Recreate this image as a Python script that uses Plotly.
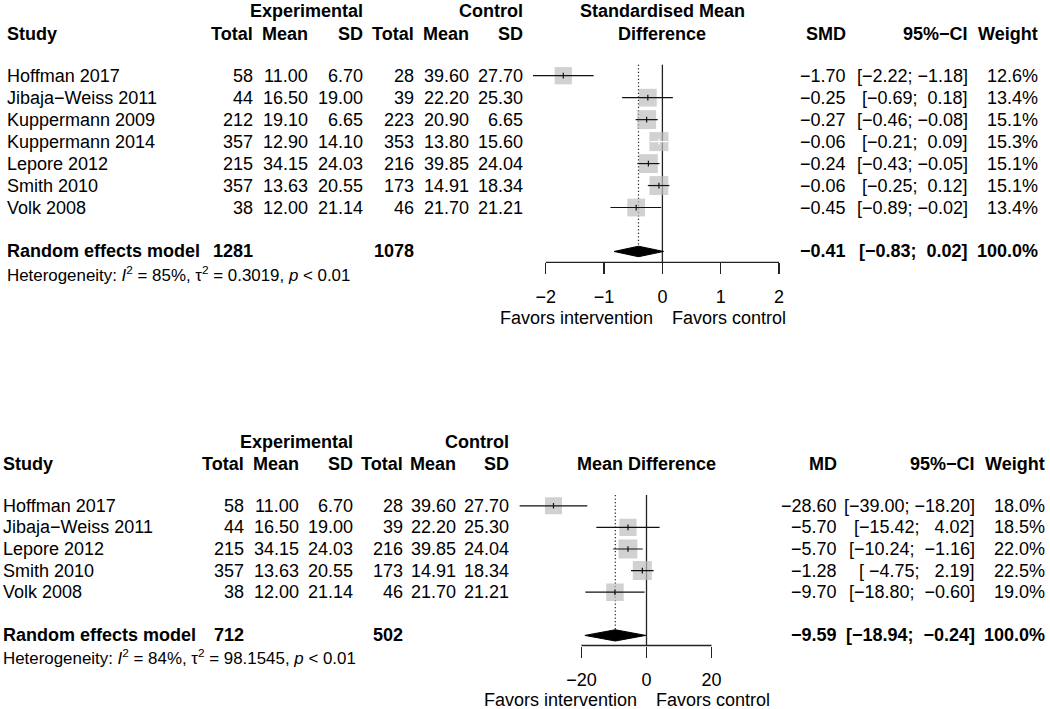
import math
import plotly.graph_objects as go

W, H = 1050, 709
FONT = "Liberation Sans, Arial, Helvetica, sans-serif"
FS = 18
HS = 16.9
MINUS = "\u2212"
NB = "\u00a0"

# ---------------- data: standardised mean difference ----------------
smd_studies = ["Hoffman 2017", "Jibaja-Weiss 2011", "Kuppermann 2009", "Kuppermann 2014",
               "Lepore 2012", "Smith 2010", "Volk 2008"]
smd_n_e = [58, 44, 212, 357, 215, 357, 38]
smd_mean_e = [11.00, 16.50, 19.10, 12.90, 34.15, 13.63, 12.00]
smd_sd_e = [6.70, 19.00, 6.65, 14.10, 24.03, 20.55, 21.14]
smd_n_c = [28, 39, 223, 353, 216, 173, 46]
smd_mean_c = [39.60, 22.20, 20.90, 13.80, 39.85, 14.91, 21.70]
smd_sd_c = [27.70, 25.30, 6.65, 15.60, 24.04, 18.34, 21.21]
smd_est = [-1.70, -0.25, -0.27, -0.06, -0.24, -0.06, -0.45]
smd_lo = [-2.22, -0.69, -0.46, -0.21, -0.43, -0.25, -0.89]
smd_hi = [-1.18, 0.18, -0.08, 0.09, -0.05, 0.12, -0.02]
smd_w = [12.6, 13.4, 15.1, 15.3, 15.1, 15.1, 13.4]
smd_re = [-0.41, -0.83, 0.02]
smd_tot = [1281, 1078]
smd_het = ["85%", "0.3019"]
smd_ticks = [-2, -1, 0, 1, 2]

# ---------------- data: mean difference ----------------
md_studies = ["Hoffman 2017", "Jibaja-Weiss 2011", "Lepore 2012", "Smith 2010", "Volk 2008"]
md_n_e = [58, 44, 215, 357, 38]
md_mean_e = [11.00, 16.50, 34.15, 13.63, 12.00]
md_sd_e = [6.70, 19.00, 24.03, 20.55, 21.14]
md_n_c = [28, 39, 216, 173, 46]
md_mean_c = [39.60, 22.20, 39.85, 14.91, 21.70]
md_sd_c = [27.70, 25.30, 24.04, 18.34, 21.21]
md_est = [-28.60, -5.70, -5.70, -1.28, -9.70]
md_lo = [-39.00, -15.42, -10.24, -4.75, -18.80]
md_hi = [-18.20, 4.02, -1.16, 2.19, -0.60]
md_w = [18.0, 18.5, 22.0, 22.5, 19.0]
md_re = [-9.59, -18.94, -0.24]
md_tot = [712, 502]
md_het = ["84%", "98.1545"]
md_ticks = [-20, 0, 20]


def m(s):
    return s.replace("-", MINUS)


def fmt(v, d=2):
    return m(f"{v:.{d}f}")


def ci_strings(lo, hi):
    los = [f"{v:.2f}" for v in lo]
    his = [f"{v:.2f}" for v in hi]
    wl = max(len(s) for s in los)
    wh = max(len(s) for s in his)
    return [m("[" + a.rjust(wl, NB) + ";" + NB + b.rjust(wh, NB) + "]") for a, b in zip(los, his)]


fig = go.Figure()
annotations = []
shapes = []


def ann(text, x, y, xref, yref, anchor, bold=False, size=FS, xshift=0):
    annotations.append(dict(
        text=(f"<b>{text}</b>" if bold else text), x=x, y=y, xref=xref, yref=yref,
        xanchor=anchor, yanchor="middle", showarrow=False, xshift=xshift,
        borderpad=0, borderwidth=0,
        font=dict(family=FONT, size=size, color="black")))


def panel(cfg):
    xa, ya = cfg["xa"], cfg["ya"]
    xr, yr = ("x" if xa == "xaxis" else "x2"), ("y" if ya == "yaxis" else "y2")
    r1, pitch = cfg["row1_px"], cfg["pitch"]
    top_px, axis_px = cfg["top_px"], cfg["axis_px"]
    k_top = 1 + (top_px - r1) / pitch
    k_bot = 1 + (axis_px - r1) / pitch
    x0_px, x1_px = cfg["dom_px"]
    zero_px, scale = cfg["zero_px"], cfg["scale"]
    xrange = [(x0_px - zero_px) / scale, (x1_px - zero_px) / scale]

    def py(px):
        return 1 - px / H

    fig.update_layout({
        xa: dict(domain=[x0_px / W, x1_px / W], range=xrange, anchor=yr,
                 showgrid=False, zeroline=False, showline=False,
                 ticks="outside", ticklen=11, tickwidth=1.3, tickcolor="#222",
                 tickvals=cfg["ticks"], ticktext=[m(str(t)) for t in cfg["ticks"]],
                 tickfont=dict(family=FONT, size=FS, color="black"),
                 ticklabelstandoff=cfg["standoff"], fixedrange=True),
        ya: dict(domain=[py(axis_px), py(top_px)], range=[k_bot, k_top], anchor=xr,
                 visible=False, fixedrange=True),
    })

    n = len(cfg["studies"])
    rows = list(range(1, n + 1))
    k_re = n + 2
    est, lo, hi, w = cfg["est"], cfg["lo"], cfg["hi"], cfg["w"]
    re_est, re_lo, re_hi = cfg["re"]
    dh = cfg["dia_h"]

    # reference lines
    fig.add_trace(go.Scatter(x=[re_est, re_est], y=[0.5, k_re - dh], mode="lines",
                             line=dict(color="#222", width=1.2, dash="1.3px,2.2px"),
                             xaxis=xr, yaxis=yr, hoverinfo="skip", showlegend=False))
    fig.add_trace(go.Scatter(x=[0, 0], y=[0.5, k_bot], mode="lines",
                             line=dict(color="#222", width=1.3),
                             xaxis=xr, yaxis=yr, hoverinfo="skip", showlegend=False))
    # squares
    wmax = max(w)
    sizes = [cfg["sq_max"] * math.sqrt(v / wmax) for v in w]
    fig.add_trace(go.Scatter(x=est, y=rows, mode="markers",
                             marker=dict(symbol="square", size=sizes, color="#BEBEBE",
                                         line=dict(width=0)),
                             xaxis=xr, yaxis=yr, hoverinfo="skip", showlegend=False))
    # CI lines and estimate ticks
    for inside_flag, col in ((False, "#111"), (True, "white")):
        lx, ly, tx, ty = [], [], [], []
        for k, e, a, b, s in zip(rows, est, lo, hi, sizes):
            inside = (e - a) * scale <= s / 2 and (b - e) * scale <= s / 2
            if inside != inside_flag:
                continue
            lx += [a, b, None]
            ly += [k, k, None]
            tx += [e, e, None]
            ty += [k - 0.13, k + 0.13, None]
        if lx:
            fig.add_trace(go.Scatter(x=lx, y=ly, mode="lines", line=dict(color=col, width=1.2),
                                     xaxis=xr, yaxis=yr, hoverinfo="skip", showlegend=False))
            fig.add_trace(go.Scatter(x=tx, y=ty, mode="lines", line=dict(color=col, width=1.2),
                                     xaxis=xr, yaxis=yr, hoverinfo="skip", showlegend=False))
    # diamond
    fig.add_trace(go.Scatter(x=[re_lo, re_est, re_hi, re_est, re_lo],
                             y=[k_re, k_re - dh, k_re, k_re + dh, k_re],
                             mode="lines", fill="toself", fillcolor="black",
                             line=dict(color="black", width=1),
                             xaxis=xr, yaxis=yr, hoverinfo="skip", showlegend=False))
    # axis line from first to last tick
    shapes.append(dict(type="line", xref=xr, yref=yr + " domain",
                       x0=cfg["ticks"][0], x1=cfg["ticks"][-1], y0=0, y1=0,
                       line=dict(color="#222", width=1.3)))

    # ----- table text -----
    cols = cfg["cols_px"]
    hy1, hy2 = py(cfg["head_px"][0]), py(cfg["head_px"][1])
    ann("Experimental", cols[2] / W, hy1, "paper", "paper", "right", bold=True)
    ann("Control", cols[5] / W, hy1, "paper", "paper", "right", bold=True)
    ann("Study", cfg["study_px"] / W, hy2, "paper", "paper", "left", bold=True)
    for c, t in zip(cols, ["Total", "Mean", "SD", "Total", "Mean", "SD"]):
        ann(t, c / W, hy2, "paper", "paper", "right", bold=True)
    if cfg["title2"]:
        ann(cfg["title1"], 0, hy1, xr, "paper", "center", bold=True)
        ann(cfg["title2"], 0, hy2, xr, "paper", "center", bold=True)
    else:
        ann(cfg["title1"], 0, hy2, xr, "paper", "center", bold=True)
    ann(cfg["eff"], cfg["est_px"] / W, hy2, "paper", "paper", "right", bold=True)
    ann(m("95%-CI"), cfg["ci_px"] / W, hy2, "paper", "paper", "right", bold=True)
    ann("Weight", cfg["w_px"] / W, hy2, "paper", "paper", "right", bold=True)

    cis = ci_strings(lo + [re_lo], hi + [re_hi])
    table = [cfg["n_e"], cfg["mean_e"], cfg["sd_e"], cfg["n_c"], cfg["mean_c"], cfg["sd_c"]]
    for i, k in enumerate(rows):
        ann(m(cfg["studies"][i]), cfg["study_px"] / W, k, "paper", yr, "left")
        for j, c in enumerate(cols):
            v = table[j][i]
            ann(str(v) if j in (0, 3) else fmt(v), c / W, k, "paper", yr, "right")
        ann(fmt(est[i]), cfg["est_px"] / W, k, "paper", yr, "right")
        ann(cis[i], cfg["ci_px"] / W, k, "paper", yr, "right")
        ann(f"{w[i]:.1f}%", cfg["w_px"] / W, k, "paper", yr, "right")
    # pooled row
    ann("Random effects model", cfg["study_px"] / W, k_re, "paper", yr, "left", bold=True)
    ann(str(cfg["tot"][0]), cols[0] / W, k_re, "paper", yr, "right", bold=True)
    ann(str(cfg["tot"][1]), cols[3] / W, k_re, "paper", yr, "right", bold=True)
    ann(fmt(re_est), cfg["est_px"] / W, k_re, "paper", yr, "right", bold=True)
    ann(cis[-1], cfg["ci_px"] / W, k_re, "paper", yr, "right", bold=True)
    ann("100.0%", cfg["w_px"] / W, k_re, "paper", yr, "right", bold=True)
    # heterogeneity
    i2, t2 = cfg["het"]
    ann(f"Heterogeneity: <i>I</i><sup>2</sup> = {i2}, \u03c4<sup>2</sup> = {t2}, <i>p</i> &lt; 0.01",
        cfg["study_px"] / W, py(cfg["het_px"]), "paper", "paper", "left", size=HS)
    # favours labels
    fy = py(cfg["fav_px"])
    ann("Favors intervention", 0, fy, xr, "paper", "right", xshift=cfg["fav_gap"][0])
    ann("Favors control", 0, fy, xr, "paper", "left", xshift=cfg["fav_gap"][1])


panel(dict(
    xa="xaxis", ya="yaxis", studies=smd_studies,
    n_e=smd_n_e, mean_e=smd_mean_e, sd_e=smd_sd_e, n_c=smd_n_c, mean_c=smd_mean_c, sd_c=smd_sd_c,
    est=smd_est, lo=smd_lo, hi=smd_hi, w=smd_w, re=smd_re, tot=smd_tot, het=smd_het, ticks=smd_ticks,
    row1_px=75.7, pitch=21.97, top_px=0, axis_px=262.3, dom_px=(495, 812),
    zero_px=662.4, scale=58.3, sq_max=19, dia_h=0.24, standoff=7,
    cols_px=[252.8, 308.3, 363.4, 414.1, 469.2, 523.2], study_px=7.4,
    est_px=846.2, ci_px=968.3, w_px=1038.4, head_px=(11.5, 33.5),
    title1="Standardised Mean", title2="Difference", eff="SMD",
    het_px=274, fav_px=318.3, fav_gap=(-9.1, 9.5)))

panel(dict(
    xa="xaxis2", ya="yaxis2", studies=md_studies,
    n_e=md_n_e, mean_e=md_mean_e, sd_e=md_sd_e, n_c=md_n_c, mean_c=md_mean_c, sd_c=md_sd_c,
    est=md_est, lo=md_lo, hi=md_hi, w=md_w, re=md_re, tot=md_tot, het=md_het, ticks=md_ticks,
    row1_px=505.8, pitch=21.6, top_px=420, axis_px=645.5, dom_px=(495, 812),
    zero_px=646.5, scale=3.2525, sq_max=19, dia_h=0.26, standoff=7,
    cols_px=[244, 299.1, 352.5, 402.9, 456.3, 508.7], study_px=3.4,
    est_px=837.3, ci_px=975.1, w_px=1045.3, head_px=(441.5, 463.5),
    title1="Mean Difference", title2=None, eff="MD",
    het_px=657, fav_px=699.5, fav_gap=(-9.5, 9.8)))

fig.update_layout(
    width=W, height=H, autosize=False,
    margin=dict(l=0, r=0, t=0, b=0, pad=0),
    paper_bgcolor="white", plot_bgcolor="rgba(0,0,0,0)",
    font=dict(family=FONT, size=FS, color="black"),
    annotations=annotations, shapes=shapes, showlegend=False,
)

fig.write_html("out.html", config={"displayModeBar": False, "staticPlot": True},
               post_script="document.body.style.margin='0';document.body.style.padding='0';")
